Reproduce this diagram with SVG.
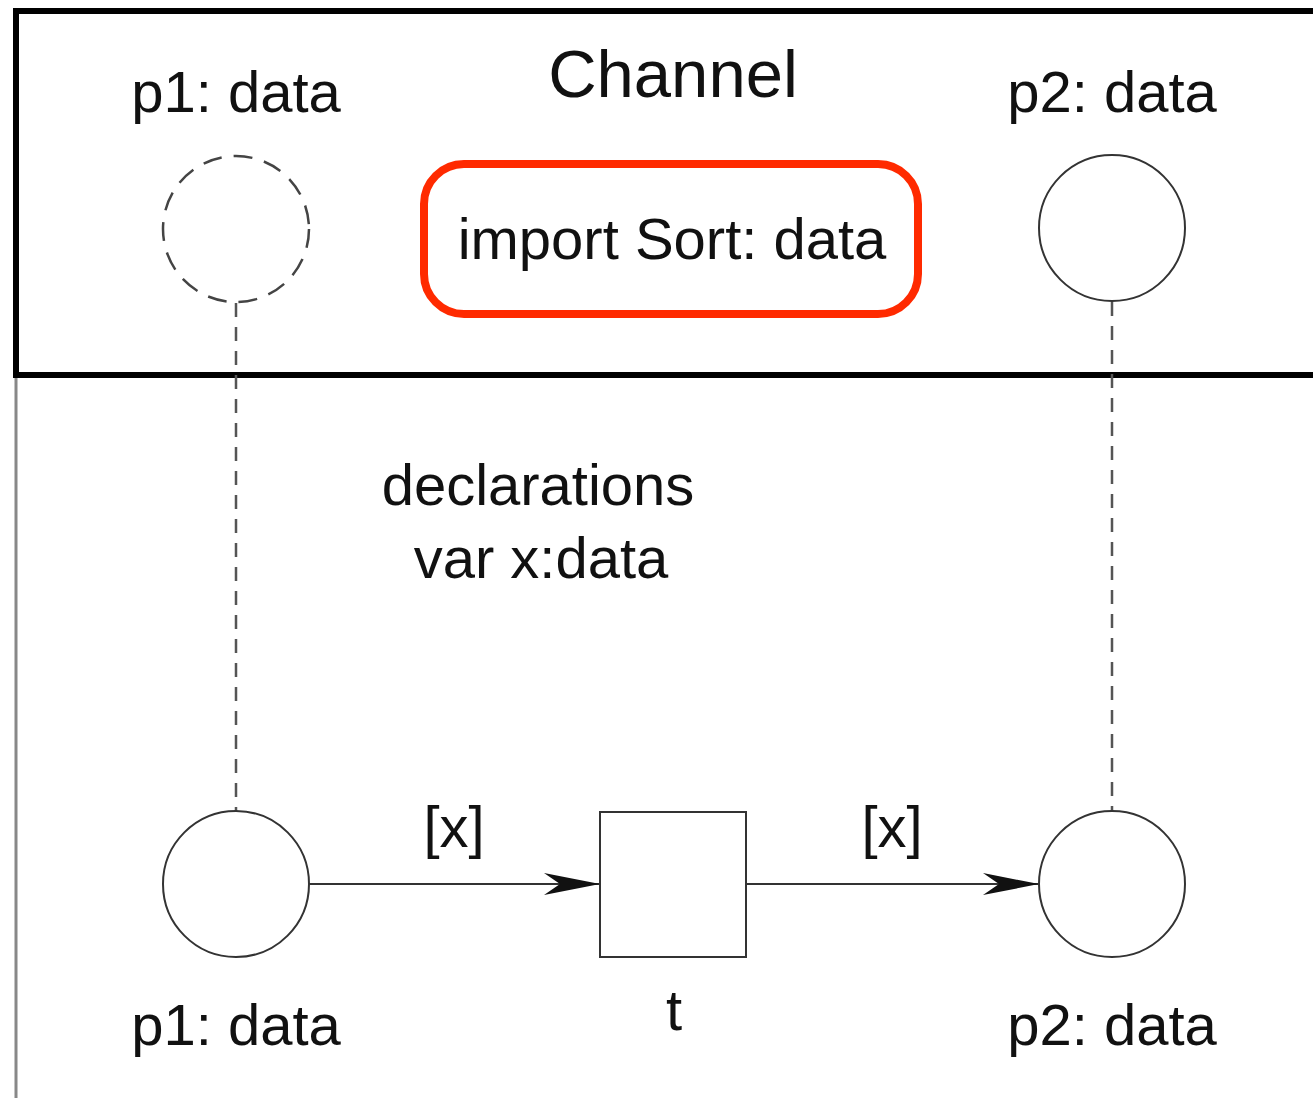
<svg xmlns="http://www.w3.org/2000/svg" width="1313" height="1098" viewBox="0 0 1313 1098">
<style>
text{font-family:"Liberation Sans",Arial,sans-serif;font-size:58px;fill:#111;text-anchor:middle}
.place{fill:#fff;stroke:#333;stroke-width:2}
.dash{fill:none;stroke:#555;stroke-width:2.5;stroke-dasharray:14 10}
.arc{fill:none;stroke:#333;stroke-width:2}
</style>
<defs>
<marker id="arr" markerWidth="56" markerHeight="24" refX="56" refY="12" orient="auto" markerUnits="userSpaceOnUse">
<path d="M0,1 L56,12 L0,23 L16,12 Z" fill="#111"/>
</marker>
</defs>
<rect width="1313" height="1098" fill="#fff"/>
<g id="frame">
<line x1="16" y1="375" x2="16" y2="1098" stroke="#888" stroke-width="3"/>
<rect x="16" y="11" width="1320" height="364" fill="none" stroke="#000" stroke-width="6"/>
<text x="673" y="97" style="font-size:67px">Channel</text>
</g>
<g id="connectors">
<line class="dash" x1="236" y1="303" x2="236" y2="811"/>
<line class="dash" x1="1112" y1="302" x2="1112" y2="811"/>
<line class="arc" x1="309" y1="884" x2="600" y2="884" marker-end="url(#arr)"/>
<line class="arc" x1="746" y1="884" x2="1039" y2="884" marker-end="url(#arr)"/>
<text x="454" y="847">[x]</text>
<text x="892" y="847">[x]</text>
</g>
<g id="p1-channel">
<circle cx="236" cy="229" r="73" fill="#fff" stroke="#444" stroke-width="2.5" stroke-dasharray="19 12"/>
<text x="236" y="112">p1: data</text>
</g>
<g id="import">
<rect x="424" y="164" width="494" height="150" rx="40" fill="#fff" stroke="#ff2a00" stroke-width="8"/>
<text x="672" y="259">import Sort: data</text>
</g>
<g id="p2-channel">
<circle class="place" cx="1112" cy="228" r="73"/>
<text x="1112" y="112">p2: data</text>
</g>
<g id="declarations">
<text x="538" y="505">declarations</text>
<text x="541" y="578">var x:data</text>
</g>
<g id="p1">
<circle class="place" cx="236" cy="884" r="73"/>
<text x="236" y="1045">p1: data</text>
</g>
<g id="t">
<rect x="600" y="812" width="146" height="145" fill="#fff" stroke="#333" stroke-width="2"/>
<text x="674" y="1030">t</text>
</g>
<g id="p2">
<circle class="place" cx="1112" cy="884" r="73"/>
<text x="1112" y="1045">p2: data</text>
</g>
</svg>
